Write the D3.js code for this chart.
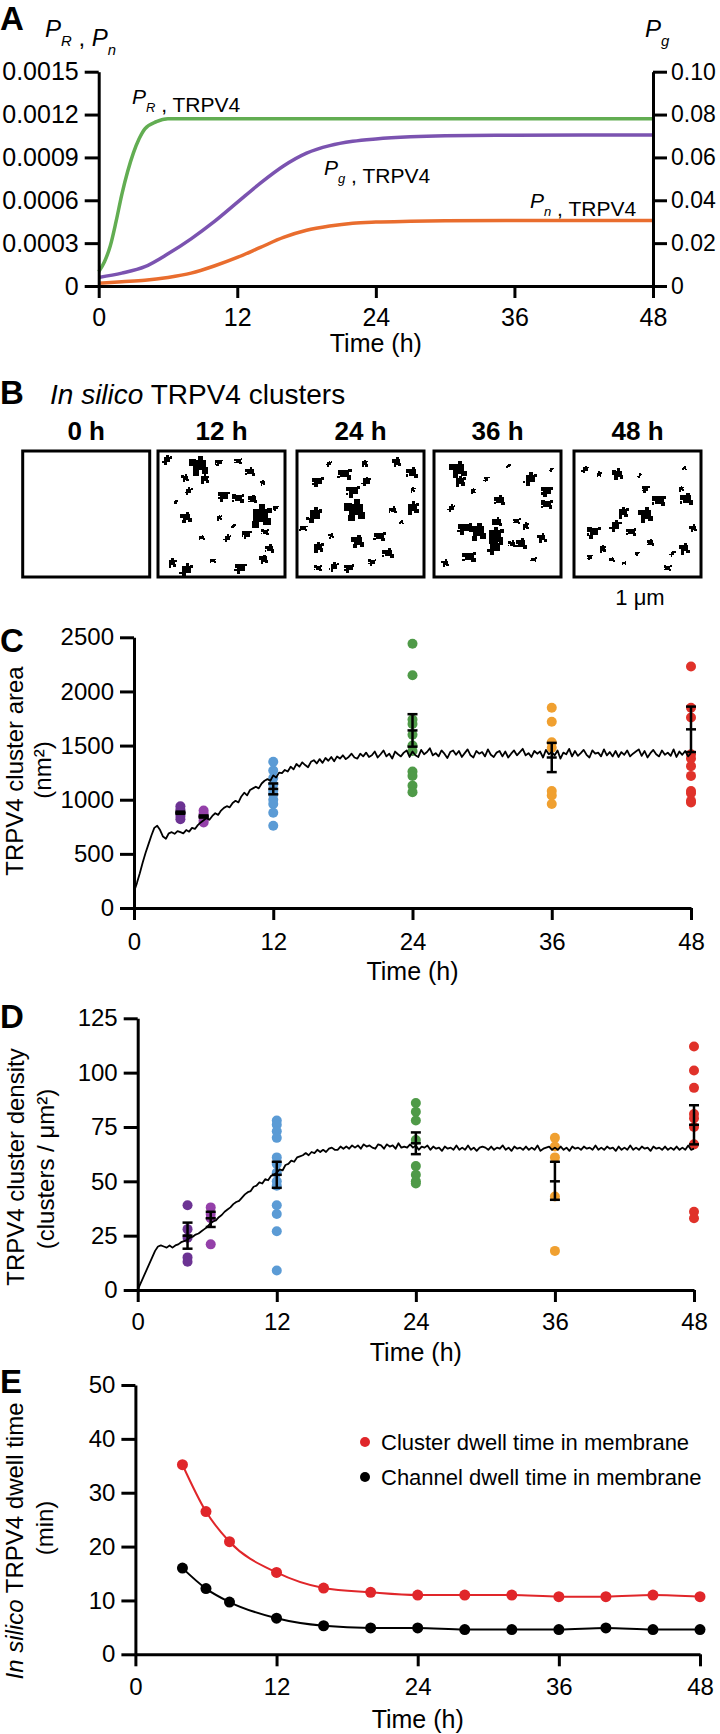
<!DOCTYPE html>
<html>
<head>
<meta charset="utf-8">
<script src="https://cdn.jsdelivr.net/npm/d3@7"></script>
<style>
  body { margin: 0; background: #fff; }
  svg { display: block; font-family: "Liberation Sans", Arial, sans-serif; }
  .axis path, .axis line { stroke: #000; stroke-width: 3; }
  .axis text { font-family: "Liberation Sans", Arial, sans-serif; fill: #000; }
</style>
</head>
<body>
<script>
// ---------- panel A: model probabilities ----------
const aTimeR = [0, 0.5, 1, 1.5, 2, 2.5, 3, 3.5, 4, 5, 6, 8, 12, 24, 36, 48];
const aPR    = [0.0001, 0.00017, 0.00028, 0.00045, 0.00064, 0.0008, 0.00093, 0.00103, 0.0011, 0.00115, 0.00117, 0.00117, 0.00117, 0.00117, 0.00117, 0.00117];
const aTime  = [0, 2, 4, 6, 8, 10, 12, 14, 16, 18, 20, 22, 24, 27, 30, 36, 42, 48];
const aPg    = [0.004, 0.006, 0.009, 0.015, 0.022, 0.030, 0.039, 0.048, 0.056, 0.062, 0.0655, 0.0675, 0.0686, 0.0696, 0.0701, 0.0704, 0.0705, 0.0705];
const aPn    = [0.00002, 0.00003, 0.00004, 0.00006, 0.00009, 0.00014, 0.0002, 0.00027, 0.00034, 0.00039, 0.00042, 0.00044, 0.000448, 0.000453, 0.000456, 0.000458, 0.000458, 0.000458];
const aLeftTicks = [0, 0.0003, 0.0006, 0.0009, 0.0012, 0.0015];
const aLeftLabels = ["0", "0.0003", "0.0006", "0.0009", "0.0012", "0.0015"];
const aRightTicks = [0, 0.02, 0.04, 0.06, 0.08, 0.10];
const aRightLabels = ["0", "0.02", "0.04", "0.06", "0.08", "0.10"];
const hourTicks = [0, 12, 24, 36, 48];

// ---------- panel B: in silico cluster snapshots [fx, fy, size] ----------
const bLabels = ["0 h", "12 h", "24 h", "36 h", "48 h"];
const bClusters = [
  [],
  [[0.32,0.10,10],[0.82,0.52,12],[0.05,0.05,5],[0.48,0.07,4],[0.64,0.06,4],[0.74,0.15,5],[0.20,0.20,4],[0.36,0.21,5],[0.23,0.31,4],[0.52,0.35,6],[0.64,0.37,6],[0.76,0.38,5],[0.21,0.53,6],[0.48,0.53,3],[0.55,0.70,4],[0.71,0.67,5],[0.86,0.65,4],[0.90,0.79,5],[0.85,0.88,5],[0.09,0.91,5],[0.21,0.97,7],[0.66,0.95,6],[0.43,0.89,3],[0.34,0.70,3],[0.84,0.24,3],[0.12,0.40,2],[0.60,0.60,2],[0.95,0.45,3]],
  [[0.46,0.47,11],[0.93,0.45,7],[0.12,0.51,8],[0.15,0.23,6],[0.37,0.17,7],[0.93,0.16,6],[0.80,0.07,5],[0.53,0.08,4],[0.55,0.23,5],[0.44,0.31,7],[0.66,0.69,6],[0.73,0.83,6],[0.48,0.73,7],[0.15,0.78,6],[0.28,0.94,5],[0.41,0.95,5],[0.15,0.95,4],[0.77,0.47,4],[0.26,0.68,3],[0.93,0.30,3],[0.24,0.08,3],[0.60,0.90,4],[0.03,0.62,4],[0.84,0.57,2]],
  [[0.18,0.13,9],[0.19,0.23,6],[0.77,0.21,7],[0.91,0.31,6],[0.91,0.42,6],[0.52,0.39,6],[0.34,0.65,9],[0.48,0.68,9],[0.48,0.78,8],[0.23,0.62,7],[0.27,0.86,7],[0.70,0.75,6],[0.87,0.70,5],[0.73,0.60,4],[0.12,0.45,4],[0.41,0.21,3],[0.66,0.56,4],[0.50,0.57,5],[0.07,0.91,4],[0.30,0.31,3],[0.59,0.10,2],[0.95,0.13,2],[0.80,0.88,3],[0.62,0.75,4]],
  [[0.34,0.17,6],[0.18,0.17,3],[0.07,0.13,4],[0.57,0.29,4],[0.68,0.39,7],[0.91,0.38,7],[0.57,0.51,8],[0.38,0.49,6],[0.32,0.60,6],[0.14,0.65,7],[0.45,0.65,5],[0.61,0.74,4],[0.89,0.79,6],[0.21,0.79,4],[0.79,0.83,3],[0.50,0.83,2],[0.75,0.95,4],[0.29,0.88,3],[0.96,0.62,4],[0.86,0.29,3],[0.52,0.18,2],[0.11,0.86,3],[0.39,0.91,2],[0.89,0.12,2]]
];

// ---------- panel C: cluster area (nm2) ----------
const dotTimesC = [4, 6, 12, 24, 36, 48];
const cDots = [
  [940, 910, 880, 850, 820],
  [900, 870, 840, 810, 790],
  [1350, 1270, 1200, 1140, 1080, 1050, 1000, 960, 880, 760],
  [2440, 2150, 1740, 1700, 1600, 1500, 1450, 1260, 1220, 1130, 1070],
  [1850, 1720, 1530, 1480, 1080, 1040, 960],
  [2230, 1850, 1760, 1420, 1380, 1310, 1220, 1080, 1060, 990, 975]
];
const cMean = [880, 845, 1100, 1640, 1390, 1650];
const cLow  = [870, 835, 1050, 1490, 1255, 1440];
const cHigh = [890, 855, 1150, 1790, 1525, 1860];
const cSim = [
  150, 230, 320, 420, 510, 590, 670, 740,
  760, 720, 660, 640, 690, 700, 685, 710,
  700, 690, 720, 705, 740, 730, 765, 790,
  810, 830, 815, 850, 875, 860, 900, 925,
  940, 930, 970, 990, 975, 1030, 1065, 1040,
  1090, 1105, 1120, 1105, 1150, 1175, 1190, 1175,
  1225, 1205, 1250, 1245, 1275, 1260, 1305, 1280,
  1330, 1305, 1345, 1320, 1300, 1350, 1365, 1335,
  1375, 1340, 1385, 1360, 1395, 1355, 1400, 1380,
  1410, 1375, 1395, 1425, 1390, 1380, 1425, 1400,
  1435, 1395, 1410, 1445, 1390, 1420, 1455, 1400,
  1425, 1380, 1445, 1420, 1400, 1435, 1455, 1395,
  1445, 1410, 1395, 1460, 1420, 1440, 1475, 1410,
  1430, 1400, 1455, 1425, 1385, 1440, 1455, 1415,
  1450, 1395, 1430, 1465, 1410, 1390, 1450, 1425,
  1440, 1400, 1465, 1415, 1395, 1435, 1450, 1400,
  1445, 1390, 1425, 1455, 1410, 1440, 1470, 1410,
  1430, 1395, 1450, 1425, 1445, 1390, 1460, 1420,
  1440, 1410, 1455, 1380, 1435, 1420, 1470, 1400,
  1450, 1405, 1430, 1460, 1415, 1390, 1455, 1425,
  1435, 1400, 1465, 1410, 1440, 1400, 1450, 1395,
  1440, 1415, 1455, 1400, 1425, 1445, 1465, 1405,
  1450, 1390, 1430, 1460, 1420, 1400, 1455, 1415,
  1435, 1405, 1465, 1395, 1445, 1415, 1450, 1400,
  1430
];
const cTicks = [0, 500, 1000, 1500, 2000, 2500];

// ---------- panel D: cluster density ----------
const dotTimesD = [4.3, 6.3, 12, 24, 36, 48];
const dDots = [
  [39, 28, 24, 15, 13],
  [38, 35, 33, 21],
  [78, 76, 73, 70, 61, 58, 54, 50, 48, 39, 35, 27, 9],
  [86, 82, 78, 69, 57, 53, 50, 49],
  [70, 66, 61, 43, 18],
  [112, 101, 93, 81, 79, 75, 67, 36, 33]
];
const dMean = [25, 33, 53, 67.5, 50, 76];
const dLow  = [19, 29, 47, 62.5, 41.5, 67];
const dHigh = [31, 36, 59, 72.5, 59, 85];
const dSim = [
  0, 3, 6, 9, 12, 15, 18, 20,
  20.5, 20, 19.5, 20.5, 19.5, 20.5, 21, 22,
  22.5, 23, 24, 24.5, 25.5, 26, 27, 28,
  29, 30.5, 31.5, 32, 33.5, 34.5, 36, 37,
  38, 39.5, 40.5, 41, 42.5, 44, 45, 45.5,
  47.5, 48, 49.5, 49, 51, 50.5, 52.5, 53,
  54, 55.5, 55, 57.5, 58, 59.5, 59, 61,
  61.5, 62, 63, 62, 63.5, 63, 64.5, 63.5,
  64.5, 63.5, 65, 65.5, 64.5, 64.5, 66, 65,
  66, 65, 66.5, 65.5, 66.5, 65, 67, 66,
  66.5, 65.5, 65, 67, 66.5, 65, 67, 66,
  66.5, 65, 67.5, 65.5, 66, 65.5, 67, 65.5,
  66.5, 64.5, 66, 65.5, 66.5, 64.5, 66, 65,
  65.5, 64, 66, 65, 65.5, 64.5, 66.5, 64.5,
  65.5, 64.5, 66.5, 64.5, 65.5, 64, 65.5, 66,
  65.5, 64.5, 66, 64.5, 65.5, 65, 66.5, 64.5,
  65.5, 64, 66, 65, 65.5, 64.5, 66, 64.5,
  65.5, 64.5, 66.5, 64, 65, 65.5, 66, 64.5,
  65.5, 64.5, 66, 64.5, 65.5, 64, 66, 65,
  65.5, 64.5, 66, 65, 65.5, 64.5, 66.5, 64.5,
  65.5, 64.5, 66, 65, 65.5, 64, 66, 64.5,
  65.5, 64.5, 66.5, 64.5, 65.5, 64.5, 66, 65,
  65.5, 64, 66, 65, 65.5, 64.5, 66, 64.5,
  65.5, 64.5, 66, 64.5, 65.5, 64.5, 66.5, 64.5,
  65
];
const dTicks = [0, 25, 50, 75, 100, 125];
const simStep = 0.25; // sampling interval of the simulated traces (h)

// ---------- panel E: dwell times ----------
const eTime = [4, 6, 8, 12, 16, 20, 24, 28, 32, 36, 40, 44, 48];
const eCluster = [35.2, 26.5, 20.9, 15.2, 12.3, 11.5, 11.0, 11.0, 11.0, 10.7, 10.7, 11.0, 10.7];
const eChannel = [16.0, 12.2, 9.7, 6.7, 5.3, 4.9, 4.9, 4.6, 4.6, 4.6, 4.9, 4.6, 4.6];
const eTicks = [0, 10, 20, 30, 40, 50];

const groupColors = ["#6c3393", "#9440a9", "#5b9bd5", "#4f9a48", "#f0a030", "#e0322a"];

// ================= drawing =================
const svg = d3.select("body").append("svg")
  .attr("width", 720)
  .attr("height", 1734);

function leftAxis(y, x0, ticks, labels, fs) {
  const g = svg.append("g").attr("class", "axis")
    .attr("transform", "translate(" + x0 + ",0)")
    .call(d3.axisLeft(y).tickValues(ticks).tickFormat((d, i) => labels[i])
      .tickSize(14).tickPadding(6).tickSizeOuter(0));
  g.selectAll("text").style("font-size", fs + "px");
  return g;
}
function rightAxis(y, x0, ticks, labels, fs) {
  const g = svg.append("g").attr("class", "axis")
    .attr("transform", "translate(" + x0 + ",0)")
    .call(d3.axisRight(y).tickValues(ticks).tickFormat((d, i) => labels[i])
      .tickSize(14).tickPadding(4).tickSizeOuter(0));
  g.selectAll("text").style("font-size", fs + "px");
  return g;
}
function bottomAxis(x, y0, fs, pad) {
  const g = svg.append("g").attr("class", "axis")
    .attr("transform", "translate(0," + y0 + ")")
    .call(d3.axisBottom(x).tickValues(hourTicks).tickSize(12).tickPadding(pad).tickSizeOuter(0));
  g.selectAll("text").style("font-size", fs + "px");
  return g;
}
function plainText(x, y, str, fs, anchor, weight) {
  return svg.append("text").attr("x", x).attr("y", y)
    .attr("text-anchor", anchor || "start")
    .style("font-size", fs + "px")
    .style("font-weight", weight || "normal")
    .text(str);
}
function panelLetter(x, y, str) {
  return plainText(x, y, str, 33, "start", "bold");
}
// italic P with subscript
function pText(parent, sub, fs) {
  parent.append("tspan").style("font-style", "italic").text("P");
  parent.append("tspan").attr("dy", fs * 0.38).style("font-style", "italic")
    .style("font-size", (fs * 0.62) + "px").text(sub);
  parent.append("tspan").attr("dy", -fs * 0.38).text("");
}
function rotTitle(x, y, fs) {
  return svg.append("text")
    .attr("transform", "translate(" + x + "," + y + ") rotate(-90)")
    .attr("text-anchor", "middle")
    .style("font-size", fs + "px");
}

// ---------------- Panel A ----------------
const xA = d3.scaleLinear().domain([0, 48]).range([98.7, 653]);
const yAL = d3.scaleLinear().domain([0, 0.0015]).range([286, 71.7]);
const yAR = d3.scaleLinear().domain([0, 0.10]).range([286, 71.7]);

const lineR = d3.line().x((d, i) => xA(aTimeR[i])).y(d => yAL(d)).curve(d3.curveMonotoneX);
const lineL = d3.line().x((d, i) => xA(aTime[i])).y(d => yAL(d)).curve(d3.curveMonotoneX);
const lineG = d3.line().x((d, i) => xA(aTime[i])).y(d => yAR(d)).curve(d3.curveMonotoneX);

svg.append("path").attr("d", lineR(aPR)).attr("fill", "none").attr("stroke", "#62ad52").attr("stroke-width", 3.5);
svg.append("path").attr("d", lineG(aPg)).attr("fill", "none").attr("stroke", "#7b53b0").attr("stroke-width", 3.5);
svg.append("path").attr("d", lineL(aPn)).attr("fill", "none").attr("stroke", "#e96d2e").attr("stroke-width", 3.5);

leftAxis(yAL, 98.7, aLeftTicks, aLeftLabels, 25);
rightAxis(yAR, 653, aRightTicks, aRightLabels, 23);
bottomAxis(xA, 286, 25, 10);
plainText((98.7 + 653) / 2, 352, "Time (h)", 25, "middle");
panelLetter(0, 30, "A");

// axis headers
let t = svg.append("text").attr("x", 45).attr("y", 37).style("font-size", "24px");
pText(t, "R", 24);
t.append("tspan").text(" , ");
pText(t, "n", 24);
t = svg.append("text").attr("x", 645).attr("y", 37).style("font-size", "24px");
pText(t, "g", 24);

// curve labels
t = svg.append("text").attr("x", 132).attr("y", 104).style("font-size", "21px");
pText(t, "R", 21); t.append("tspan").text(" , TRPV4");
t = svg.append("text").attr("x", 324).attr("y", 175).style("font-size", "21px");
pText(t, "g", 21); t.append("tspan").text(" , TRPV4");
t = svg.append("text").attr("x", 530).attr("y", 208).style("font-size", "21px");
pText(t, "n", 21); t.append("tspan").text(" , TRPV4");

// ---------------- Panel B ----------------
panelLetter(0, 404, "B");
t = svg.append("text").attr("x", 50).attr("y", 404).style("font-size", "28px");
t.append("tspan").style("font-style", "italic").text("In silico");
t.append("tspan").text(" TRPV4 clusters");

const boxLeft = [22.7, 158, 297, 434, 574];
const boxW = 127, boxTop = 451, boxH = 126;
const lobes = [[-0.55, -0.25, 0.55], [0.45, 0.35, 0.5], [0.1, -0.6, 0.4], [-0.3, 0.55, 0.45], [0.6, -0.4, 0.35], [-0.7, 0.3, 0.3]];
const sizeScale = d3.scaleLinear().domain([0, 12]).range([0, 15]);

bLabels.forEach((lab, b) => {
  const bx = boxLeft[b];
  plainText(bx + boxW / 2, 440, lab, 26, "middle", "bold");
  const fx = d3.scaleLinear().domain([0, 1]).range([bx + 3, bx + boxW - 3]);
  const fy = d3.scaleLinear().domain([0, 1]).range([boxTop + 3, boxTop + boxH - 3]);
  svg.append("clipPath").attr("id", "clip" + b)
    .append("rect").attr("x", bx).attr("y", boxTop).attr("width", boxW).attr("height", boxH);
  const g = svg.append("g").attr("clip-path", "url(#clip" + b + ")").attr("shape-rendering", "crispEdges");
  bClusters[b].forEach((c, i) => {
    const cx = fx(c[0]), cy = fy(c[1]), s = sizeScale(c[2]);
    g.append("rect").attr("x", cx - s / 2).attr("y", cy - s / 2).attr("width", s).attr("height", s * 0.85).attr("fill", "#000");
    for (let k = 0; k < 4; k++) {
      const lb = lobes[(i + k) % lobes.length];
      const ls = Math.max(1.5, lb[2] * s);
      g.append("rect")
        .attr("x", cx + lb[0] * s - ls / 2).attr("y", cy + lb[1] * s - ls / 2)
        .attr("width", ls).attr("height", ls).attr("fill", "#000");
    }
  });
  svg.append("rect").attr("x", bx).attr("y", boxTop).attr("width", boxW).attr("height", boxH)
    .attr("fill", "none").attr("stroke", "#000").attr("stroke-width", 3);
});
plainText(640, 605, "1 \u03bcm", 22, "middle");

// ---------------- scatter + sim panels ----------------
function scatterPanel(opt) {
  const x = d3.scaleLinear().domain([0, 48]).range([opt.x0, opt.x1]);
  const y = d3.scaleLinear().domain([0, opt.max]).range([opt.y0, opt.y1]);
  opt.dots.forEach((vals, gi) => {
    svg.append("g").selectAll("circle").data(vals).enter().append("circle")
      .attr("cx", x(opt.times[gi])).attr("cy", d => y(d)).attr("r", 5)
      .attr("fill", groupColors[gi]);
  });
  const simLine = d3.line().x((d, i) => x(i * simStep)).y(d => y(d));
  svg.append("path").attr("d", simLine(opt.sim)).attr("fill", "none")
    .attr("stroke", "#000").attr("stroke-width", 1.8).attr("stroke-linejoin", "round");
  const eb = svg.append("g").attr("stroke", "#000").attr("stroke-width", 2.5);
  opt.times.forEach((tt, gi) => {
    const cx = x(tt);
    eb.append("line").attr("x1", cx).attr("x2", cx).attr("y1", y(opt.lo[gi])).attr("y2", y(opt.hi[gi]));
    [opt.lo[gi], opt.hi[gi], opt.mean[gi]].forEach(v => {
      eb.append("line").attr("x1", cx - 5).attr("x2", cx + 5).attr("y1", y(v)).attr("y2", y(v));
    });
  });
  leftAxis(y, opt.x0, opt.ticks, opt.ticks.map(String), 24);
  bottomAxis(x, opt.y0, 24, opt.pad);
  plainText((opt.x0 + opt.x1) / 2, opt.titleY, "Time (h)", 25, "middle");
}

// Panel C
scatterPanel({ x0: 134, x1: 691, y0: 908, y1: 637.3, max: 2500, times: dotTimesC, dots: cDots,
  mean: cMean, lo: cLow, hi: cHigh, sim: cSim, ticks: cTicks, pad: 13, titleY: 980 });
panelLetter(0, 652, "C");
rotTitle(23, 771, 24).text("TRPV4 cluster area");
rotTitle(51, 770, 24).text("(nm\u00b2)");

// Panel D
scatterPanel({ x0: 137.7, x1: 694, y0: 1290, y1: 1018.3, max: 125, times: dotTimesD, dots: dDots,
  mean: dMean, lo: dLow, hi: dHigh, sim: dSim, ticks: dTicks, pad: 11, titleY: 1361 });
panelLetter(0, 1028, "D");
rotTitle(24, 1167, 24).text("TRPV4 cluster density");
rotTitle(54, 1169, 24).text("(clusters / \u03bcm\u00b2)");

// ---------------- Panel E ----------------
const xE = d3.scaleLinear().domain([0, 48]).range([135.4, 700]);
const yE = d3.scaleLinear().domain([0, 50]).range([1654.3, 1385]);
const lineE = d3.line().x((d, i) => xE(eTime[i])).y(d => yE(d)).curve(d3.curveMonotoneX);

[[eCluster, "#e0262a"], [eChannel, "#000"]].forEach(([vals, col]) => {
  svg.append("path").attr("d", lineE(vals)).attr("fill", "none").attr("stroke", col).attr("stroke-width", 2);
  svg.append("g").selectAll("circle").data(vals).enter().append("circle")
    .attr("cx", (d, i) => xE(eTime[i])).attr("cy", d => yE(d)).attr("r", 5.5).attr("fill", col);
});
leftAxis(yE, 135.4, eTicks, eTicks.map(String), 24);
bottomAxis(xE, 1654.3, 24, 12);
plainText((135.4 + 700) / 2, 1728, "Time (h)", 25, "middle");
panelLetter(0, 1393, "E");

t = rotTitle(23, 1541, 24);
t.append("tspan").style("font-style", "italic").text("In silico");
t.append("tspan").text(" TRPV4  dwell time");
rotTitle(53, 1528, 24).text("(min)");

// legend
svg.append("circle").attr("cx", 365).attr("cy", 1442).attr("r", 5).attr("fill", "#e0262a");
plainText(381, 1450, "Cluster dwell time in membrane", 22);
svg.append("circle").attr("cx", 365).attr("cy", 1477).attr("r", 5).attr("fill", "#000");
plainText(381, 1485, "Channel dwell time in membrane", 22);
</script>
</body>
</html>
